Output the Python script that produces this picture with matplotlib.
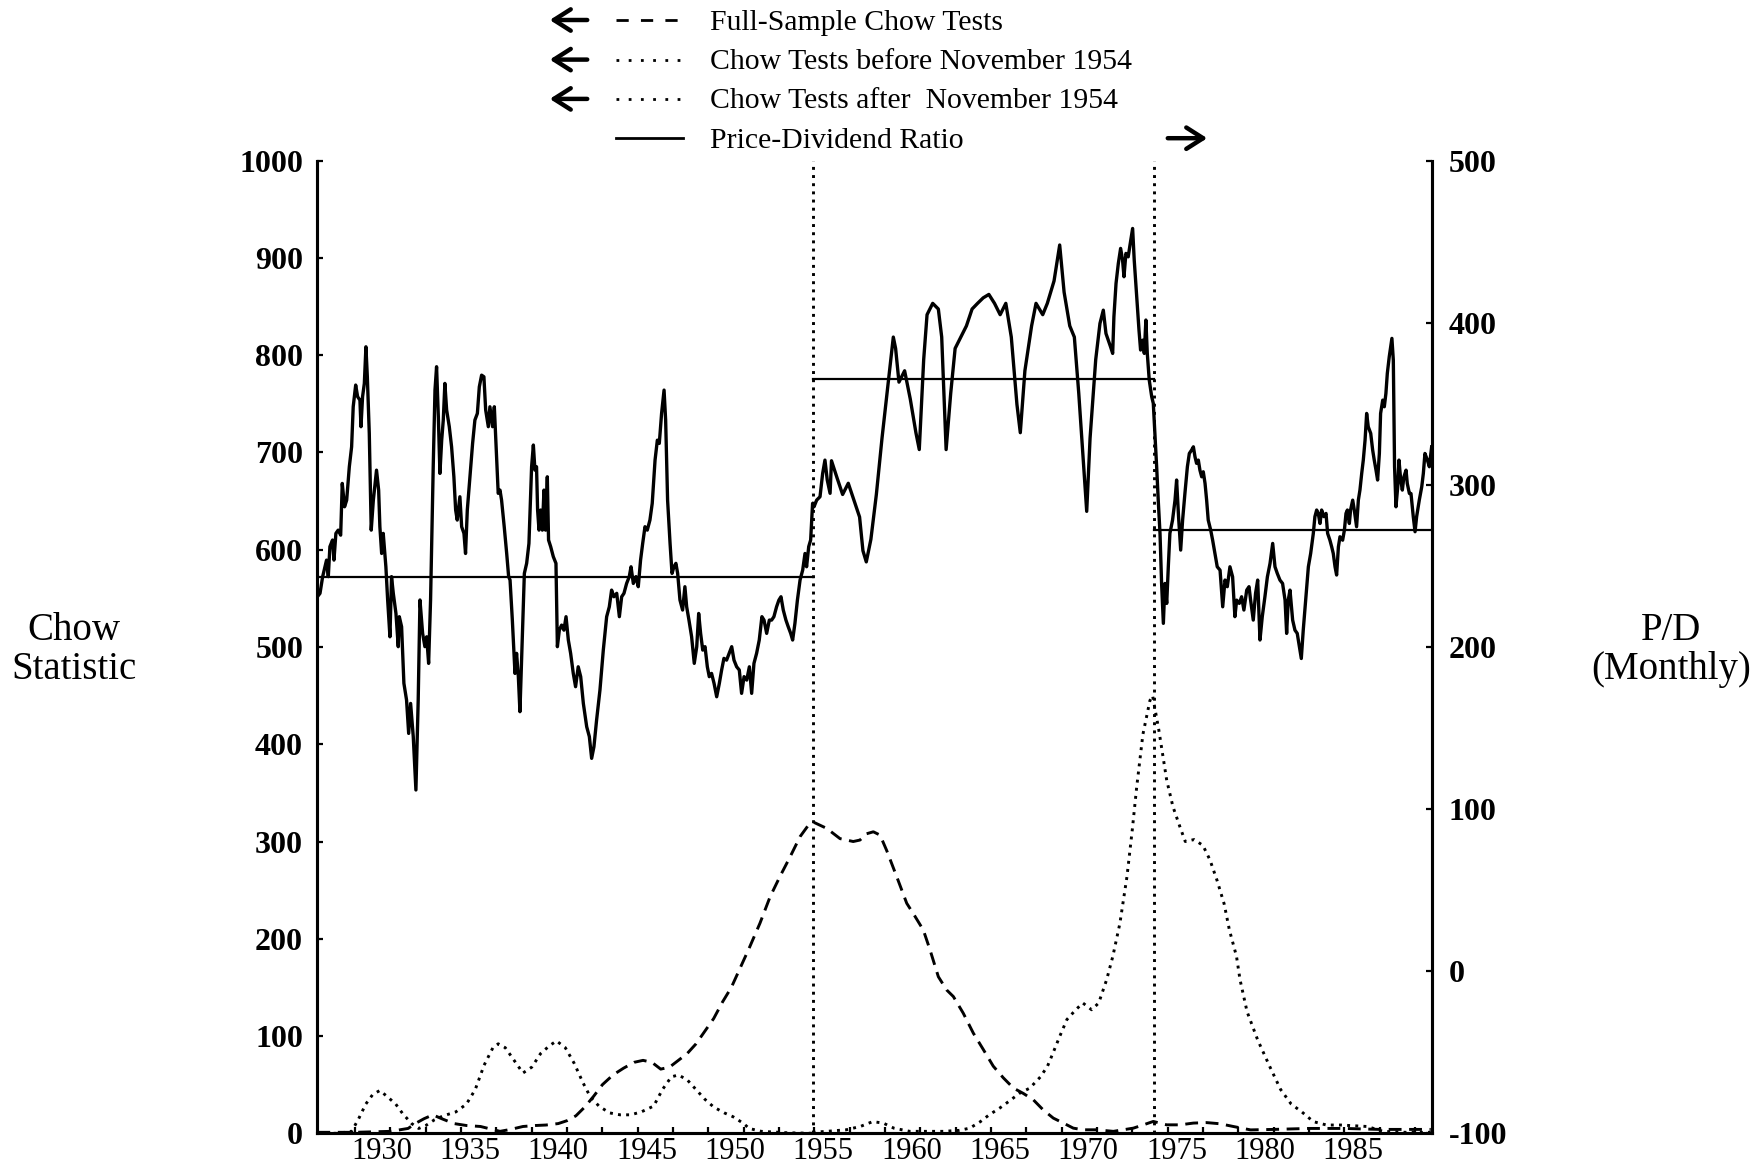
import matplotlib
matplotlib.use("Agg")
import matplotlib.pyplot as plt
from matplotlib.lines import Line2D
from matplotlib.patches import FancyArrowPatch

SERIF = ["Liberation Serif", "DejaVu Serif"]

# ---------------------------------------------------------------------------
# Price-dividend ratio (right axis), decimal years
# ---------------------------------------------------------------------------
pd_time = [
    1926.86, 1927.01, 1927.16, 1927.29, 1927.38, 1927.48, 1927.57, 1927.72, 1927.80, 1927.91,
    1928.04, 1928.18, 1928.27, 1928.40, 1928.52, 1928.67, 1928.80, 1928.89, 1929.03, 1929.14,
    1929.27, 1929.33, 1929.42, 1929.52, 1929.61, 1929.69, 1929.80, 1929.91, 1930.03, 1930.21,
    1930.33, 1930.40, 1930.50, 1930.59, 1930.74, 1930.84, 1930.97, 1931.06, 1931.16, 1931.31,
    1931.44, 1931.50, 1931.63, 1931.76, 1931.91, 1932.03, 1932.14, 1932.29, 1932.44, 1932.57,
    1932.67, 1932.82, 1932.95, 1933.05, 1933.16, 1933.27, 1933.42, 1933.52, 1933.61, 1933.71,
    1933.80, 1933.90, 1933.99, 1934.08, 1934.18, 1934.33, 1934.46, 1934.59, 1934.69, 1934.78,
    1934.93, 1935.03, 1935.16, 1935.25, 1935.35, 1935.50, 1935.65, 1935.78, 1935.92, 1936.03,
    1936.16, 1936.29, 1936.39, 1936.54, 1936.63, 1936.78, 1936.88, 1937.01, 1937.10, 1937.20,
    1937.29, 1937.44, 1937.58, 1937.69, 1937.77, 1937.90, 1938.05, 1938.14, 1938.24, 1938.33,
    1938.44, 1938.58, 1938.71, 1938.84, 1938.99, 1939.09, 1939.18, 1939.27, 1939.33, 1939.41,
    1939.50, 1939.60, 1939.69, 1939.78, 1939.88, 1939.95, 1940.07, 1940.22, 1940.37, 1940.45,
    1940.56, 1940.69, 1940.82, 1940.94, 1941.07, 1941.20, 1941.35, 1941.48, 1941.63, 1941.77,
    1941.92, 1942.11, 1942.26, 1942.39, 1942.52, 1942.67, 1942.86, 1943.05, 1943.24, 1943.39,
    1943.52, 1943.65, 1943.81, 1943.96, 1944.09, 1944.22, 1944.37, 1944.52, 1944.62, 1944.75,
    1944.90, 1945.03, 1945.16, 1945.28, 1945.41, 1945.54, 1945.69, 1945.82, 1945.98, 1946.11,
    1946.22, 1946.35, 1946.49, 1946.58, 1946.69, 1946.83, 1946.94, 1947.05, 1947.16, 1947.26,
    1947.39, 1947.54, 1947.67, 1947.77, 1947.90, 1948.05, 1948.20, 1948.34, 1948.45, 1948.56,
    1948.68, 1948.81, 1948.94, 1949.05, 1949.18, 1949.32, 1949.47, 1949.62, 1949.75, 1949.88,
    1950.03, 1950.18, 1950.32, 1950.45, 1950.60, 1950.75, 1950.88, 1951.02, 1951.17, 1951.32,
    1951.45, 1951.58, 1951.73, 1951.88, 1952.03, 1952.15, 1952.30, 1952.45, 1952.58, 1952.71,
    1952.86, 1952.99, 1953.11, 1953.24, 1953.39, 1953.52, 1953.66, 1953.77, 1953.90, 1954.04,
    1954.19, 1954.34, 1954.47, 1954.56, 1954.68, 1954.79, 1954.90, 1954.98, 1955.13, 1955.32,
    1955.47, 1955.60, 1955.73, 1955.89, 1955.97, 1956.28, 1956.60, 1956.92, 1957.24, 1957.56,
    1957.75, 1957.94, 1958.20, 1958.51, 1958.83, 1959.15, 1959.47, 1959.60, 1959.79, 1960.11,
    1960.43, 1960.75, 1960.94, 1961.19, 1961.38, 1961.70, 1962.02, 1962.21, 1962.46, 1962.72,
    1962.97, 1963.29, 1963.61, 1963.93, 1964.24, 1964.56, 1964.88, 1965.20, 1965.52, 1965.84,
    1966.15, 1966.47, 1966.66, 1966.92, 1967.30, 1967.55, 1967.93, 1968.19, 1968.57, 1968.89,
    1969.14, 1969.46, 1969.72, 1969.97, 1970.23, 1970.42, 1970.61, 1970.93, 1971.17, 1971.36,
    1971.51, 1971.64, 1971.77, 1971.89, 1971.96, 1972.08, 1972.21, 1972.34, 1972.45, 1972.53,
    1972.64, 1972.77, 1972.87, 1973.02, 1973.11, 1973.25, 1973.38, 1973.47, 1973.59, 1973.68,
    1973.77, 1973.85, 1973.96, 1974.10, 1974.19, 1974.28, 1974.38, 1974.47, 1974.57, 1974.66,
    1974.76, 1974.85, 1974.95, 1975.04, 1975.13, 1975.28, 1975.42, 1975.51, 1975.62, 1975.74,
    1975.85, 1975.98, 1976.12, 1976.23, 1976.36, 1976.46, 1976.55, 1976.64, 1976.74, 1976.83,
    1976.93, 1977.02, 1977.12, 1977.21, 1977.30, 1977.44, 1977.55, 1977.68, 1977.81, 1977.97,
    1978.12, 1978.25, 1978.38, 1978.53, 1978.68, 1978.81, 1978.91, 1979.06, 1979.19, 1979.32,
    1979.48, 1979.61, 1979.70, 1979.85, 1979.98, 1980.10, 1980.23, 1980.36, 1980.51, 1980.65,
    1980.80, 1980.95, 1981.08, 1981.21, 1981.36, 1981.51, 1981.65, 1981.74, 1981.83, 1981.93,
    1982.08, 1982.21, 1982.34, 1982.46, 1982.57, 1982.68, 1982.82, 1982.97, 1983.10, 1983.25,
    1983.34, 1983.44, 1983.53, 1983.63, 1983.72, 1983.85, 1983.97, 1984.06, 1984.19, 1984.29,
    1984.38, 1984.48, 1984.57, 1984.67, 1984.76, 1984.91, 1985.01, 1985.10, 1985.18, 1985.29,
    1985.36, 1985.48, 1985.57, 1985.70, 1985.80, 1985.89, 1985.99, 1986.08, 1986.18, 1986.27,
    1986.36, 1986.50, 1986.61, 1986.70, 1986.80, 1986.89, 1986.99, 1987.06, 1987.18, 1987.27,
    1987.36, 1987.44, 1987.55, 1987.63, 1987.70, 1987.78, 1987.85, 1987.93, 1988.03, 1988.10,
    1988.20, 1988.29, 1988.38, 1988.50, 1988.57, 1988.69, 1988.78, 1988.91, 1989.01, 1989.10,
    1989.25, 1989.39, 1989.48, 1989.57, 1989.71, 1989.82, 1989.95,
]
pd_ratio = [
    231.0, 233.1, 243.4, 249.5, 253.6, 243.4, 261.9, 266.0, 253.6, 270.1,
    272.1, 269.0, 300.9, 286.5, 290.6, 311.2, 323.5, 348.2, 361.6, 354.4,
    352.3, 335.9, 354.4, 362.6, 385.2, 366.7, 331.8, 272.1, 290.6, 309.1,
    296.8, 274.2, 257.7, 270.1, 249.5, 229.0, 206.3, 243.4, 233.1, 220.7,
    200.2, 218.7, 212.5, 177.6, 167.3, 146.7, 165.2, 144.7, 111.8, 167.3,
    229.0, 208.4, 200.2, 206.3, 189.9, 229.0, 311.2, 358.5, 372.9, 342.0,
    307.1, 327.6, 340.0, 362.6, 346.2, 335.9, 323.5, 305.0, 284.5, 278.3,
    292.7, 274.2, 270.1, 257.7, 284.5, 305.0, 325.6, 340.0, 344.1, 360.5,
    367.7, 366.7, 346.2, 335.9, 348.2, 335.9, 348.2, 317.4, 294.8, 296.8,
    290.6, 274.2, 257.7, 243.4, 241.3, 216.6, 183.7, 196.1, 181.7, 160.1,
    198.1, 245.4, 251.6, 263.9, 311.2, 324.6, 309.1, 311.2, 284.5, 272.1,
    284.5, 272.1, 296.8, 272.1, 305.0, 266.0, 261.9, 255.7, 251.6, 200.2,
    210.4, 213.5, 210.4, 218.7, 204.3, 196.1, 183.7, 175.5, 187.8, 181.7,
    165.2, 150.8, 144.7, 131.3, 138.5, 154.9, 173.4, 198.1, 218.7, 224.8,
    235.1, 231.0, 233.1, 218.7, 231.0, 233.1, 239.2, 243.4, 249.5, 239.2,
    243.4, 237.2, 253.6, 263.9, 274.2, 272.1, 278.3, 288.6, 315.3, 327.6,
    325.6, 344.1, 358.5, 340.0, 290.6, 263.9, 245.4, 249.5, 251.6, 245.4,
    229.0, 222.8, 237.2, 224.8, 216.6, 206.3, 189.9, 200.2, 220.7, 208.4,
    198.1, 200.2, 187.8, 181.7, 183.7, 177.6, 169.3, 177.6, 185.8, 193.0,
    191.9, 196.1, 200.2, 191.9, 187.8, 185.8, 171.4, 181.7, 179.6, 187.8,
    171.4, 189.9, 196.1, 204.3, 218.7, 216.6, 208.4, 216.6, 216.6, 218.7,
    224.8, 228.9, 231.0, 222.8, 216.6, 212.5, 208.4, 204.3, 214.6, 228.9,
    241.3, 247.5, 257.7, 249.5, 261.9, 266.0, 288.6, 286.5, 290.6, 292.7,
    307.1, 315.3, 303.0, 294.8, 314.9, 304.5, 294.1, 301.0, 290.6, 280.2,
    259.4, 252.5, 266.4, 294.1, 328.8, 360.0, 391.2, 384.2, 363.4, 370.4,
    353.0, 332.2, 321.8, 377.3, 405.0, 412.0, 408.5, 391.2, 321.8, 356.5,
    384.2, 391.2, 398.1, 408.5, 412.0, 415.4, 417.5, 412.0, 405.0, 412.0,
    391.2, 349.6, 332.2, 370.4, 398.1, 412.0, 405.0, 412.0, 425.8, 448.0,
    418.9, 398.1, 391.2, 356.5, 314.9, 283.7, 328.8, 377.3, 399.6, 407.8,
    393.4, 389.3, 385.2, 381.1, 403.7, 424.3, 436.6, 445.9, 438.7, 428.4,
    442.8, 440.7, 447.9, 458.2, 438.7, 416.1, 395.5, 383.2, 389.3, 381.1,
    401.7, 381.1, 364.7, 354.4, 350.3, 331.8, 311.2, 290.6, 270.1, 239.2,
    214.6, 239.2, 226.9, 249.5, 270.1, 278.3, 290.6, 303.0, 280.4, 259.8,
    278.3, 294.7, 311.2, 319.4, 321.5, 323.5, 317.4, 313.3, 315.3, 309.1,
    305.0, 308.1, 300.9, 290.6, 278.3, 272.1, 265.9, 257.7, 249.5, 247.4,
    224.8, 241.3, 237.2, 249.5, 243.3, 218.7, 228.9, 226.9, 231.0, 222.8,
    235.1, 237.2, 228.9, 216.6, 233.1, 241.3, 204.3, 218.7, 231.0, 243.3,
    251.6, 263.9, 249.5, 245.4, 241.3, 239.2, 228.9, 208.4, 228.9, 235.1,
    216.6, 210.4, 208.4, 200.2, 192.9, 210.4, 228.9, 249.5, 257.7, 270.1,
    280.4, 284.5, 282.4, 276.2, 284.5, 280.4, 282.4, 270.1, 265.9, 261.8,
    257.7, 249.5, 244.4, 261.8, 268.0, 265.9, 272.1, 282.4, 284.5, 276.2,
    284.5, 290.6, 284.5, 274.2, 290.6, 296.8, 307.1, 315.3, 327.6, 344.1,
    335.9, 331.8, 321.5, 315.3, 309.1, 303.0, 319.4, 344.1, 352.3, 348.2,
    356.4, 368.8, 379.1, 385.2, 390.4, 377.0, 311.2, 286.5, 298.9, 315.3,
    303.0, 296.8, 305.0, 309.1, 300.9, 294.7, 294.7, 280.4, 271.1, 280.4,
    290.6, 298.9, 307.1, 319.4, 315.3, 311.2, 323.5,
]

# Break dates and subperiod means of the price-dividend ratio
break_dates = [1954.9, 1974.25]          # November 1954, spring 1974
mean_start = [1926.84, 1954.9, 1974.25]
mean_end = [1954.9, 1974.25, 1989.85]
mean_value = [243.4, 365.3, 272.2]

# ---------------------------------------------------------------------------
# Chow statistics (left axis)
# ---------------------------------------------------------------------------
full_time = [
    1926.86, 1929.0, 1931.0, 1932.0, 1932.4, 1932.9, 1933.4, 1933.9, 1934.6, 1935.3,
    1936.1, 1937.2, 1937.8, 1938.5, 1939.2, 1939.8, 1940.5, 1941.0, 1941.5, 1942.0,
    1942.5, 1943.0, 1943.6, 1944.2, 1944.8, 1945.3, 1945.8, 1946.3, 1946.8, 1947.3,
    1947.8, 1948.3, 1948.8, 1949.3, 1949.8, 1950.3, 1950.8, 1951.3, 1951.92, 1952.49,
    1953.05, 1953.62, 1954.19, 1954.75, 1954.94, 1955.7, 1956.45, 1957.2, 1957.58, 1957.96,
    1958.34, 1958.72, 1959.09, 1959.66, 1960.23, 1960.7, 1961.17, 1961.55, 1962.02, 1962.49,
    1962.87, 1963.43, 1964.0, 1964.57, 1965.13, 1965.7, 1966.27, 1966.83, 1967.4, 1967.96,
    1968.53, 1969.1, 1969.66, 1970.23, 1970.98, 1971.93, 1973.06, 1973.63, 1974.19, 1974.95,
    1975.7, 1976.46, 1977.21, 1977.97, 1978.72, 1979.7, 1981.0, 1983.0, 1985.0, 1987.0,
    1989.9,
]
full_chow = [
    1.0, 1.0, 2.0, 5.0, 10.0, 15.0, 19.0, 15.0, 10.0, 8.0,
    7.0, 2.0, 4.0, 7.0, 8.0, 8.5, 10.0, 13.0, 18.0, 27.0,
    38.0, 50.0, 60.0, 67.0, 73.0, 75.0, 73.0, 66.0, 68.0, 75.0,
    82.0, 92.0, 105.0, 118.0, 135.0, 150.0, 170.0, 190.0, 216.0, 243.0,
    264.0, 284.0, 305.0, 319.0, 320.0, 313.5, 303.0, 300.0, 301.5, 308.0,
    310.0, 306.6, 291.0, 264.0, 236.5, 223.0, 209.0, 188.5, 161.0, 147.4,
    140.6, 123.5, 103.0, 86.0, 69.0, 57.0, 46.5, 41.0, 34.4, 24.0,
    15.6, 10.5, 5.3, 3.6, 3.6, 2.0, 5.3, 8.7, 12.2, 8.7,
    8.7, 10.5, 11.0, 9.8, 7.0, 3.5, 4.0, 5.0, 5.0, 4.0,
    4.0,
]

before_time = [
    1926.86, 1928.0, 1928.8, 1929.2, 1929.6, 1930.0, 1930.4, 1930.8, 1931.3, 1931.7,
    1932.2, 1932.6, 1933.0, 1933.5, 1934.0, 1934.7, 1935.3, 1935.8, 1936.3, 1936.8,
    1937.1, 1937.5, 1938.0, 1938.5, 1939.0, 1939.5, 1940.0, 1940.4, 1940.9, 1941.4,
    1941.9, 1942.3, 1942.8, 1943.4, 1944.0, 1944.6, 1945.2, 1945.9, 1946.4, 1946.9,
    1947.3, 1947.8, 1948.3, 1948.8, 1949.3, 1949.9, 1950.4, 1951.0, 1951.3, 1952.0,
    1953.5, 1954.9,
]
before_chow = [
    0.0, 0.0, 2.0, 15.0, 30.0, 40.0, 44.0, 38.0, 30.0, 20.0,
    10.0, 5.0, 8.0, 14.0, 18.0, 22.0, 30.0, 45.0, 70.0, 88.0,
    92.0, 88.0, 75.0, 62.0, 68.0, 82.0, 90.0, 95.0, 88.0, 72.0,
    52.0, 38.0, 28.0, 21.0, 19.0, 19.0, 22.0, 28.0, 45.0, 58.0,
    60.0, 55.0, 45.0, 35.0, 27.0, 21.0, 17.0, 10.0, 5.0, 2.0,
    0.5, 0.0,
]

after_time = [
    1954.9, 1955.7, 1956.8, 1957.6, 1958.3, 1958.9, 1959.5, 1960.4, 1962.3, 1963.2,
    1963.8, 1964.4, 1964.9, 1965.5, 1966.1, 1966.6, 1967.2, 1967.8, 1968.2, 1968.5,
    1968.9, 1969.3, 1969.8, 1970.2, 1970.7, 1971.1, 1971.55, 1971.9, 1972.3, 1972.7,
    1973.0, 1973.25, 1973.6, 1974.0, 1974.15, 1974.5, 1974.95, 1975.3, 1975.7, 1976.0,
    1976.5, 1977.0, 1977.4, 1977.8, 1978.2, 1978.5, 1978.9, 1979.1, 1979.5, 1980.1,
    1980.8, 1981.4, 1982.0, 1982.6, 1983.25, 1984.0, 1984.8, 1986.3, 1987.2, 1988.5,
    1989.9,
]
after_chow = [
    1.0, 2.0, 3.6, 7.0, 12.0, 10.5, 5.3, 2.0, 2.0, 3.0,
    5.3, 12.0, 19.0, 26.0, 34.0, 41.0, 46.5, 58.0, 69.0, 82.0,
    100.0, 117.0, 127.0, 134.0, 127.0, 134.0, 158.0, 182.0, 216.0, 264.0,
    312.0, 356.0, 410.0, 445.0, 450.0, 415.0, 363.0, 336.0, 315.0, 300.0,
    302.0, 296.0, 281.0, 260.0, 236.0, 209.0, 182.0, 158.0, 125.0, 96.0,
    68.0, 45.0, 30.0, 22.0, 12.0, 8.5, 8.5, 7.0, 2.0, 1.0,
    1.0,
]

chow_ticks = list(range(0, 1001, 100))
pd_ticks = list(range(-100, 501, 100))
year_labels = [1930, 1935, 1940, 1945, 1950, 1955, 1960, 1965, 1970, 1975, 1980, 1985]
tick_years = list(range(1929, 1990, 2))

legend_entries = [
    ("Full-Sample Chow Tests", "dashed"),
    ("Chow Tests before November 1954", "dotted"),
    ("Chow Tests after  November 1954", "dotted"),
    ("Price-Dividend Ratio", "solid"),
]

# ---------------------------------------------------------------------------
W, H = 1762, 1173
fig = plt.figure(figsize=(W / 100, H / 100), dpi=100)
fig.patch.set_facecolor("white")

ax = fig.add_axes([317 / W, 1 - 1133.3 / H, (1432 - 317) / W, (1133.3 - 160.7) / H])
ax2 = ax.twinx()

DASH = (0, (4.4, 2.6))
DOT = (0, (1.0, 1.8))
LW_SERIES = 2.1

ax.plot(full_time, full_chow, color="black", lw=LW_SERIES, linestyle=DASH)
ax.plot(before_time, before_chow, color="black", lw=LW_SERIES, linestyle=DOT)
ax.plot(after_time, after_chow, color="black", lw=LW_SERIES, linestyle=DOT)
for b in break_dates:
    ax.axvline(b, color="black", lw=LW_SERIES, linestyle=DOT)

ax2.plot(pd_time, pd_ratio, color="black", lw=2.4)
for x0, x1, m in zip(mean_start, mean_end, mean_value):
    ax2.plot([x0, x1], [m, m], color="black", lw=1.6)

ax.set_xlim(1926.84, 1989.97)
ax.set_ylim(0, 1000)
ax2.set_ylim(-100, 500)

for a in (ax, ax2):
    a.spines["top"].set_visible(False)
    for s in ("left", "right", "bottom"):
        a.spines[s].set_linewidth(2.2)

# y ticks
ax.set_yticks(chow_ticks, labels=[str(v) for v in chow_ticks],
              fontfamily=SERIF, fontweight="bold", fontsize=23)
ax.tick_params(axis="y", direction="in", length=4.5, width=1.6, pad=10)
ax2.set_yticks(pd_ticks, labels=[str(v) for v in pd_ticks],
               fontfamily=SERIF, fontweight="bold", fontsize=23)
ax2.tick_params(axis="y", direction="in", length=4.5, width=1.6, pad=12)

# x ticks: marks every two years, year labels centred mid-year
ax.set_xticks(tick_years, labels=[""] * len(tick_years))
ax.set_xticks([y + 0.5 for y in year_labels], labels=[str(y) for y in year_labels],
              minor=True, fontfamily=SERIF, fontsize=22)
ax.tick_params(axis="x", which="major", direction="in", length=4.5, width=1.6)
ax.tick_params(axis="x", which="minor", length=0, pad=3)

# axis titles
fig.text(74 / W, 1 - 650 / H, "Chow\nStatistic", ha="center", va="center",
         fontfamily=SERIF, fontsize=28, linespacing=1.05)
fig.text(1671 / W, 1 - 650 / H, "P/D\n(Monthly)", ha="center", va="center",
         fontfamily=SERIF, fontsize=28, linespacing=1.05)

# legend
row_y = [20, 59.6, 98.9, 138.2]
styles = {"dashed": (0, (4.4, 4.4)), "dotted": (0, (1.0, 3.4)), "solid": "-"}
arrow_style = "->,head_length=0.55,head_width=0.35"
for (label, style), ry in zip(legend_entries, row_y):
    yf = 1 - ry / H
    fig.add_artist(Line2D([616 / W, 683 / W], [yf, yf], transform=fig.transFigure,
                          color="black", lw=2.0, linestyle=styles[style]))
    fig.text(710 / W, 1 - (ry + 9.5) / H, label, ha="left", va="baseline",
             fontfamily=SERIF, fontsize=21.4)
    if style != "solid":
        start, end = (590 / W, yf), (547 / W, yf)
    else:
        start, end = (1165 / W, yf), (1210 / W, yf)
    fig.add_artist(FancyArrowPatch(start, end, transform=fig.transFigure,
                                   arrowstyle=arrow_style, mutation_scale=22,
                                   lw=3.2, color="black"))

fig.savefig("out.png", dpi=100, facecolor="white")
